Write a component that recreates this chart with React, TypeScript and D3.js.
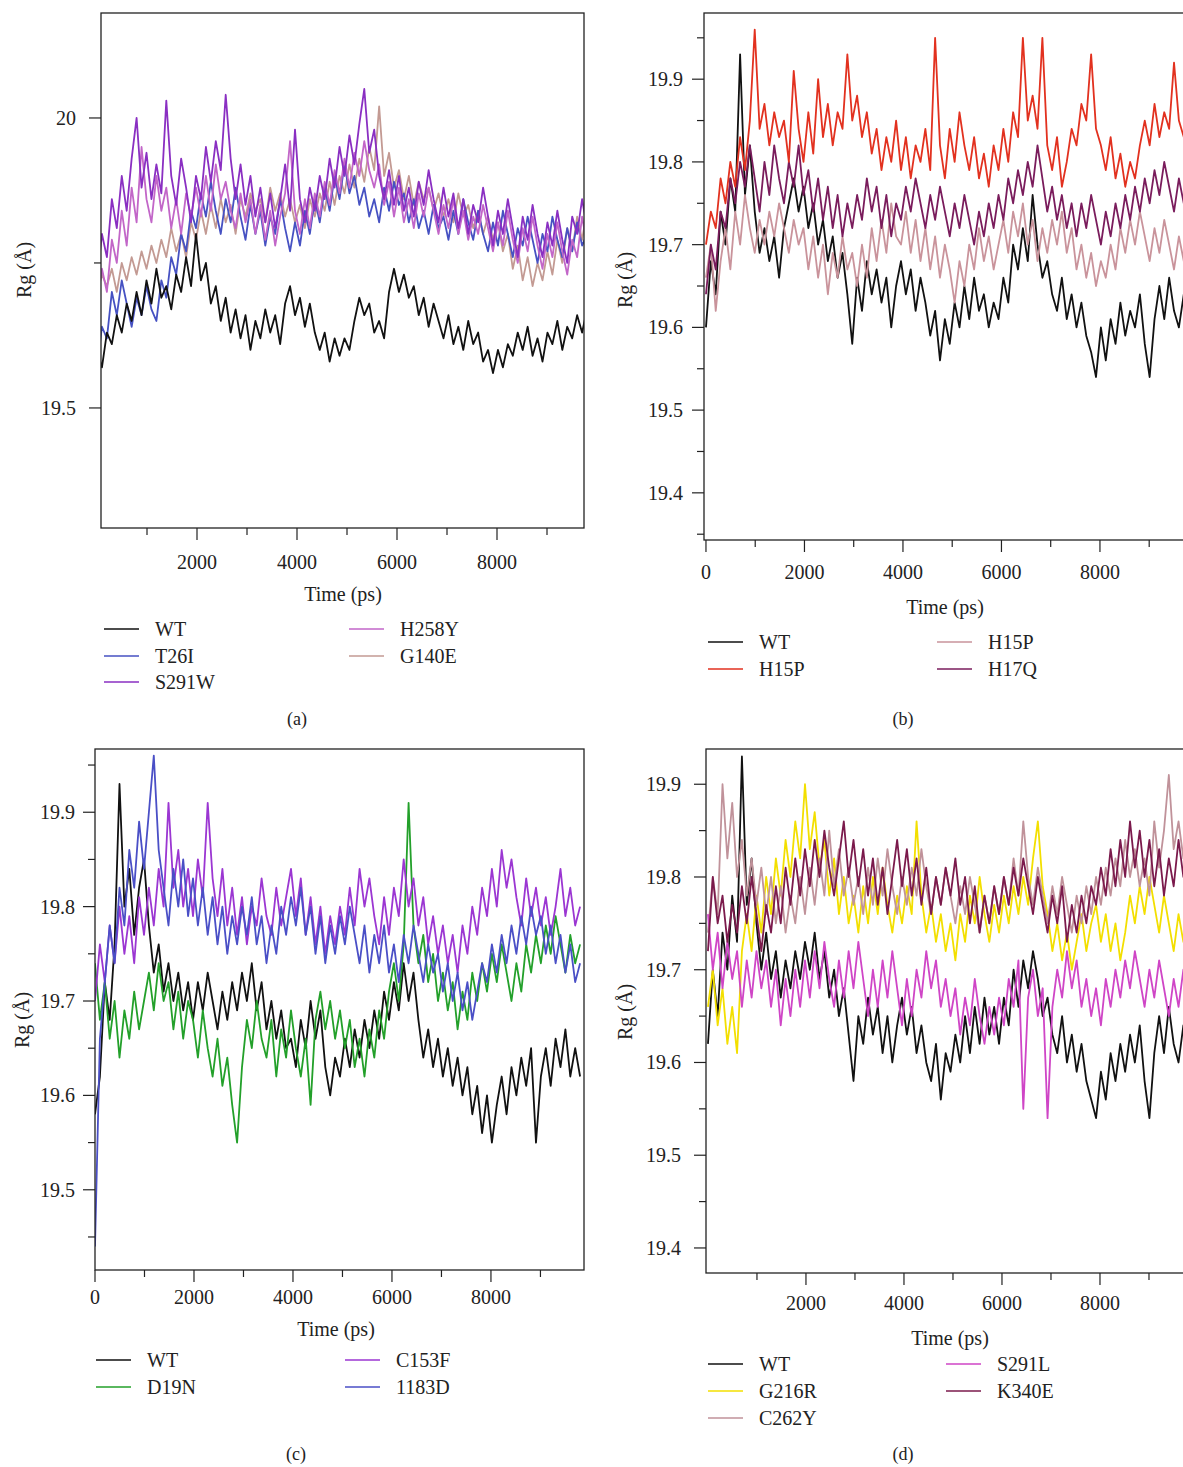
import React from 'react'
import * as d3 from 'd3'

// frames are saved every 99 ps, index -> time
const STEP = 99

// ---- (a) ----
const aWT = [19.60, 19.57, 19.63, 19.61, 19.66, 19.63, 19.68, 19.65, 19.70, 19.66,
  19.72, 19.68, 19.74, 19.69, 19.71, 19.67, 19.73, 19.70, 19.76, 19.71,
  19.80, 19.72, 19.75, 19.68, 19.71, 19.65, 19.69, 19.63, 19.67, 19.62,
  19.66, 19.60, 19.65, 19.62, 19.67, 19.63, 19.66, 19.61, 19.68, 19.71,
  19.66, 19.69, 19.64, 19.68, 19.63, 19.60, 19.63, 19.58, 19.62, 19.59,
  19.62, 19.60, 19.65, 19.69, 19.66, 19.68, 19.63, 19.65, 19.62, 19.70,
  19.74, 19.70, 19.73, 19.69, 19.71, 19.66, 19.69, 19.64, 19.68, 19.65,
  19.62, 19.66, 19.61, 19.64, 19.60, 19.65, 19.61, 19.63, 19.58, 19.60,
  19.56, 19.60, 19.57, 19.61, 19.59, 19.63, 19.60, 19.64, 19.59, 19.62,
  19.58, 19.63, 19.61, 19.65, 19.60, 19.64, 19.62, 19.66, 19.63, 19.67]
const aT26I = [19.57, 19.64, 19.62, 19.70, 19.66, 19.72, 19.68, 19.64, 19.69, 19.66,
  19.71, 19.67, 19.65, 19.72, 19.69, 19.76, 19.73, 19.80, 19.77, 19.84,
  19.81, 19.87, 19.83, 19.89, 19.84, 19.80, 19.86, 19.82, 19.88, 19.83,
  19.79, 19.85, 19.80, 19.84, 19.78, 19.83, 19.80, 19.86, 19.81, 19.77,
  19.82, 19.78, 19.84, 19.80, 19.86, 19.82, 19.88, 19.84, 19.90, 19.86,
  19.92, 19.87, 19.90, 19.85, 19.88, 19.83, 19.86, 19.82, 19.88, 19.84,
  19.89, 19.85, 19.87, 19.82, 19.86, 19.81, 19.84, 19.80, 19.85, 19.81,
  19.83, 19.79, 19.84, 19.80, 19.86, 19.82, 19.79, 19.84, 19.80, 19.77,
  19.82, 19.78, 19.84, 19.80, 19.76, 19.81, 19.78, 19.83, 19.79, 19.75,
  19.80, 19.77, 19.83, 19.79, 19.76, 19.81, 19.77, 19.82, 19.78, 19.80]
const aS291W = [19.72, 19.80, 19.76, 19.86, 19.81, 19.90, 19.84, 19.93, 20.00, 19.88,
  19.94, 19.86, 19.92, 19.87, 20.03, 19.90, 19.85, 19.93, 19.88, 19.82,
  19.90, 19.86, 19.95, 19.89, 19.96, 19.91, 20.04, 19.93, 19.86, 19.92,
  19.85, 19.90, 19.83, 19.88, 19.82, 19.87, 19.81, 19.86, 19.92, 19.84,
  19.98, 19.86, 19.82, 19.88, 19.84, 19.90, 19.86, 19.93, 19.88, 19.95,
  19.90, 19.97, 19.92, 19.99, 20.05, 19.94, 19.98, 19.90, 19.86, 19.91,
  19.85, 19.90, 19.84, 19.88, 19.83, 19.89, 19.85, 19.91, 19.86, 19.82,
  19.88, 19.83, 19.87, 19.81, 19.86, 19.80, 19.85, 19.82, 19.88, 19.83,
  19.78, 19.84, 19.80, 19.86, 19.81, 19.76, 19.83, 19.79, 19.85, 19.80,
  19.76, 19.82, 19.78, 19.84, 19.79, 19.75, 19.83, 19.80, 19.86, 19.81]
const aH258Y = [19.68, 19.74, 19.70, 19.79, 19.75, 19.84, 19.78, 19.88, 19.82, 19.95,
  19.86, 19.82, 19.90, 19.84, 19.88, 19.81, 19.86, 19.80, 19.87, 19.83,
  19.88, 19.83, 19.90, 19.84, 19.92, 19.86, 19.89, 19.84, 19.81, 19.87,
  19.82, 19.86, 19.80, 19.85, 19.79, 19.84, 19.78, 19.83, 19.87, 19.96,
  19.84, 19.80, 19.86, 19.81, 19.87, 19.83, 19.89, 19.85, 19.91, 19.87,
  19.93, 19.88, 19.94, 19.90, 19.96, 19.91, 19.88, 19.92, 19.85, 19.89,
  19.83, 19.88, 19.82, 19.86, 19.81, 19.87, 19.83, 19.88, 19.84, 19.80,
  19.85, 19.81, 19.86, 19.80, 19.84, 19.79, 19.83, 19.80, 19.85, 19.81,
  19.77, 19.82, 19.78, 19.84, 19.79, 19.75, 19.81, 19.77, 19.83, 19.78,
  19.74, 19.80, 19.76, 19.82, 19.77, 19.73, 19.79, 19.76, 19.83, 19.78]
const aG140E = [19.70, 19.73, 19.71, 19.74, 19.70, 19.75, 19.72, 19.76, 19.73, 19.77,
  19.74, 19.78, 19.75, 19.79, 19.76, 19.81, 19.77, 19.80, 19.76, 19.82,
  19.79, 19.84, 19.80, 19.85, 19.81, 19.86, 19.82, 19.85, 19.80, 19.86,
  19.83, 19.87, 19.84, 19.86, 19.82, 19.88, 19.84, 19.87, 19.83, 19.86,
  19.82, 19.85, 19.81, 19.86, 19.83, 19.87, 19.84, 19.89, 19.85, 19.90,
  19.87, 19.92, 19.88, 19.93, 19.89, 19.95, 19.91, 20.02, 19.90, 19.94,
  19.88, 19.91, 19.86, 19.90, 19.85, 19.89, 19.86, 19.88, 19.84, 19.87,
  19.83, 19.86, 19.82, 19.87, 19.83, 19.85, 19.81, 19.84, 19.80, 19.83,
  19.79, 19.82, 19.77, 19.80, 19.74, 19.78, 19.72, 19.76, 19.71, 19.75,
  19.72, 19.77, 19.73, 19.79, 19.75, 19.81, 19.77, 19.83, 19.79, 19.84]

// ---- (b) ----
const bWT = [19.60, 19.68, 19.64, 19.74, 19.70, 19.78, 19.74, 19.93, 19.76, 19.82,
  19.74, 19.69, 19.72, 19.68, 19.71, 19.66, 19.72, 19.75, 19.78, 19.74,
  19.77, 19.72, 19.75, 19.70, 19.73, 19.68, 19.71, 19.66, 19.69, 19.64,
  19.58, 19.66, 19.62, 19.68, 19.64, 19.67, 19.63, 19.66, 19.60, 19.65,
  19.68, 19.64, 19.67, 19.62, 19.66, 19.63, 19.59, 19.62, 19.56, 19.61,
  19.58, 19.63, 19.60, 19.65, 19.61, 19.66, 19.62, 19.64, 19.60, 19.63,
  19.61, 19.66, 19.63, 19.70, 19.67, 19.72, 19.68, 19.76, 19.70, 19.66,
  19.68, 19.64, 19.62, 19.66, 19.61, 19.64, 19.60, 19.63, 19.59, 19.57,
  19.54, 19.60, 19.56, 19.61, 19.58, 19.63, 19.59, 19.62, 19.60, 19.64,
  19.58, 19.54, 19.61, 19.65, 19.61, 19.66, 19.62, 19.60, 19.64, 19.62]
const bH15P = [19.70, 19.74, 19.72, 19.78, 19.75, 19.80, 19.77, 19.83, 19.79, 19.85,
  19.96, 19.84, 19.87, 19.82, 19.86, 19.83, 19.85, 19.80, 19.91, 19.84,
  19.80, 19.86, 19.81, 19.90, 19.83, 19.87, 19.82, 19.86, 19.84, 19.93,
  19.85, 19.88, 19.83, 19.86, 19.81, 19.84, 19.79, 19.83, 19.80, 19.85,
  19.79, 19.83, 19.78, 19.82, 19.80, 19.84, 19.79, 19.95, 19.82, 19.78,
  19.84, 19.80, 19.86, 19.82, 19.79, 19.83, 19.78, 19.81, 19.77, 19.82,
  19.79, 19.84, 19.80, 19.86, 19.83, 19.95, 19.85, 19.88, 19.84, 19.95,
  19.82, 19.79, 19.83, 19.77, 19.80, 19.84, 19.82, 19.87, 19.85, 19.93,
  19.84, 19.82, 19.79, 19.83, 19.78, 19.81, 19.77, 19.80, 19.78, 19.82,
  19.85, 19.82, 19.87, 19.83, 19.86, 19.84, 19.92, 19.85, 19.83, 19.86]
const bH15Pb = [19.66, 19.70, 19.62, 19.68, 19.72, 19.67, 19.74, 19.70, 19.76, 19.72,
  19.69, 19.73, 19.70, 19.74, 19.71, 19.75, 19.72, 19.69, 19.73, 19.70,
  19.72, 19.67, 19.71, 19.66, 19.70, 19.64, 19.69, 19.66, 19.71, 19.67,
  19.69, 19.65, 19.70, 19.66, 19.72, 19.68, 19.73, 19.69, 19.75, 19.71,
  19.70, 19.74, 19.69, 19.73, 19.68, 19.72, 19.67, 19.71, 19.66, 19.70,
  19.67, 19.63, 19.68, 19.65, 19.70, 19.67, 19.72, 19.68, 19.71, 19.67,
  19.70, 19.73, 19.69, 19.74, 19.71, 19.75, 19.70, 19.73, 19.68, 19.72,
  19.69, 19.73, 19.70, 19.74, 19.69, 19.72, 19.67, 19.70, 19.66, 19.69,
  19.65, 19.68, 19.66, 19.70, 19.67, 19.72, 19.69, 19.73, 19.70, 19.74,
  19.71, 19.68, 19.72, 19.69, 19.73, 19.70, 19.67, 19.71, 19.68, 19.72]
const bH17Q = [19.64, 19.70, 19.67, 19.74, 19.72, 19.78, 19.75, 19.80, 19.77, 19.82,
  19.78, 19.74, 19.80, 19.76, 19.82, 19.78, 19.75, 19.80, 19.77, 19.82,
  19.76, 19.79, 19.74, 19.78, 19.73, 19.77, 19.72, 19.76, 19.71, 19.75,
  19.72, 19.76, 19.73, 19.78, 19.74, 19.77, 19.72, 19.76, 19.71, 19.75,
  19.73, 19.77, 19.74, 19.78, 19.75, 19.72, 19.76, 19.73, 19.77, 19.74,
  19.71, 19.75, 19.72, 19.76, 19.73, 19.70, 19.74, 19.71, 19.75, 19.72,
  19.76, 19.73, 19.78, 19.75, 19.79, 19.76, 19.80, 19.77, 19.82, 19.78,
  19.74, 19.77, 19.73, 19.76, 19.72, 19.75, 19.71, 19.75, 19.72, 19.76,
  19.73, 19.70, 19.74, 19.71, 19.75, 19.72, 19.76, 19.73, 19.77, 19.74,
  19.78, 19.75, 19.79, 19.76, 19.80, 19.77, 19.74, 19.78, 19.75, 19.77]

// ---- (c) ----
const cWT = [19.58, 19.62, 19.72, 19.68, 19.76, 19.93, 19.80, 19.84, 19.77, 19.82,
  19.85, 19.78, 19.73, 19.76, 19.71, 19.74, 19.70, 19.73, 19.69, 19.72,
  19.68, 19.72, 19.69, 19.73, 19.70, 19.67, 19.71, 19.68, 19.72, 19.69,
  19.73, 19.70, 19.74, 19.69, 19.72, 19.67, 19.70, 19.66, 19.69, 19.65,
  19.66, 19.63, 19.68, 19.65, 19.70, 19.66, 19.69, 19.63, 19.60, 19.64,
  19.62, 19.66, 19.63, 19.67, 19.64, 19.68, 19.65, 19.69, 19.66, 19.71,
  19.68, 19.72, 19.69, 19.74, 19.70, 19.73, 19.68, 19.64, 19.67, 19.63,
  19.66, 19.62, 19.65, 19.61, 19.64, 19.60, 19.63, 19.58, 19.61, 19.56,
  19.60, 19.55, 19.59, 19.62, 19.58, 19.63, 19.60, 19.64, 19.61, 19.65,
  19.55, 19.62, 19.65, 19.61, 19.66, 19.63, 19.67, 19.62, 19.65, 19.62]
const cD19N = [19.74, 19.68, 19.72, 19.66, 19.70, 19.64, 19.69, 19.66, 19.71, 19.67,
  19.70, 19.73, 19.69, 19.74, 19.70, 19.72, 19.67, 19.71, 19.66, 19.70,
  19.68, 19.64, 19.69, 19.65, 19.62, 19.66, 19.61, 19.64, 19.59, 19.55,
  19.63, 19.68, 19.65, 19.70, 19.66, 19.64, 19.68, 19.62, 19.67, 19.64,
  19.69, 19.65, 19.62, 19.66, 19.59, 19.68, 19.71, 19.67, 19.70, 19.66,
  19.69, 19.65, 19.68, 19.63, 19.66, 19.62, 19.67, 19.64, 19.69, 19.66,
  19.71, 19.74, 19.70, 19.76, 19.91, 19.78, 19.74, 19.77, 19.72, 19.75,
  19.70, 19.73, 19.69, 19.72, 19.67, 19.71, 19.68, 19.73, 19.70, 19.74,
  19.71, 19.75, 19.72, 19.76, 19.73, 19.70, 19.74, 19.71, 19.76, 19.73,
  19.77, 19.74, 19.78, 19.75, 19.79, 19.76, 19.73, 19.77, 19.74, 19.76]
const cC153F = [19.70, 19.76, 19.72, 19.78, 19.74, 19.80, 19.75, 19.79, 19.74, 19.81,
  19.77, 19.82, 19.78, 19.84, 19.80, 19.91, 19.82, 19.86, 19.80, 19.84,
  19.79, 19.85, 19.81, 19.91, 19.83, 19.79, 19.84, 19.78, 19.82, 19.77,
  19.81, 19.76, 19.80, 19.78, 19.83, 19.79, 19.77, 19.82, 19.78, 19.81,
  19.84, 19.79, 19.83, 19.77, 19.81, 19.76, 19.80, 19.75, 19.79, 19.76,
  19.80, 19.77, 19.82, 19.78, 19.84, 19.80, 19.83, 19.79, 19.76, 19.81,
  19.77, 19.82, 19.79, 19.85, 19.80, 19.83, 19.78, 19.81, 19.76, 19.79,
  19.75, 19.78, 19.74, 19.77, 19.73, 19.78, 19.75, 19.80, 19.77, 19.82,
  19.79, 19.84, 19.80, 19.86, 19.82, 19.85, 19.81, 19.78, 19.83, 19.79,
  19.82, 19.78, 19.81, 19.77, 19.80, 19.84, 19.79, 19.82, 19.78, 19.80]
const c1183D = [19.44, 19.66, 19.72, 19.78, 19.74, 19.82, 19.78, 19.86, 19.82, 19.89,
  19.84, 19.90, 19.96, 19.86, 19.82, 19.78, 19.84, 19.80, 19.85, 19.79,
  19.83, 19.78, 19.82, 19.77, 19.81, 19.76, 19.80, 19.75, 19.79, 19.76,
  19.80, 19.77, 19.81, 19.76, 19.79, 19.74, 19.78, 19.75, 19.80, 19.77,
  19.81, 19.78, 19.82, 19.77, 19.80, 19.75, 19.79, 19.74, 19.78, 19.75,
  19.79, 19.76, 19.80, 19.77, 19.74, 19.78, 19.73, 19.77, 19.74, 19.78,
  19.73, 19.76, 19.72, 19.77, 19.74, 19.78, 19.75, 19.72, 19.76, 19.73,
  19.75, 19.71, 19.74, 19.70, 19.73, 19.69, 19.72, 19.68, 19.71, 19.74,
  19.72, 19.76, 19.73, 19.77, 19.74, 19.78, 19.75, 19.79, 19.76, 19.80,
  19.77, 19.79, 19.75, 19.78, 19.74, 19.77, 19.73, 19.76, 19.72, 19.74]

// ---- (d) ----
const dWT = [19.62, 19.70, 19.65, 19.74, 19.70, 19.78, 19.73, 19.93, 19.77, 19.82,
  19.75, 19.70, 19.74, 19.69, 19.72, 19.67, 19.71, 19.68, 19.72, 19.69,
  19.73, 19.70, 19.74, 19.69, 19.72, 19.67, 19.70, 19.65, 19.68, 19.63,
  19.58, 19.65, 19.62, 19.67, 19.63, 19.66, 19.61, 19.65, 19.60, 19.64,
  19.67, 19.63, 19.66, 19.61, 19.64, 19.60, 19.58, 19.62, 19.56, 19.61,
  19.59, 19.63, 19.60, 19.65, 19.61, 19.66, 19.62, 19.67, 19.63, 19.66,
  19.62, 19.67, 19.64, 19.70, 19.66, 19.71, 19.68, 19.72, 19.69, 19.65,
  19.67, 19.63, 19.61, 19.65, 19.60, 19.63, 19.59, 19.62, 19.58, 19.56,
  19.54, 19.59, 19.56, 19.61, 19.58, 19.62, 19.59, 19.63, 19.60, 19.64,
  19.58, 19.54, 19.61, 19.65, 19.61, 19.66, 19.62, 19.60, 19.64, 19.62]
const dG216R = [19.66, 19.70, 19.64, 19.68, 19.62, 19.66, 19.61, 19.72, 19.76, 19.72,
  19.78, 19.74, 19.80, 19.76, 19.82, 19.78, 19.84, 19.80, 19.86, 19.82,
  19.90, 19.83, 19.87, 19.81, 19.84, 19.78, 19.82, 19.76, 19.80, 19.75,
  19.78, 19.74, 19.79, 19.75, 19.80, 19.76, 19.81, 19.77, 19.74, 19.78,
  19.75, 19.79, 19.76, 19.86, 19.78, 19.74, 19.77, 19.73, 19.76, 19.72,
  19.75, 19.71, 19.76, 19.73, 19.78, 19.75, 19.80, 19.76, 19.73, 19.77,
  19.74, 19.78, 19.75, 19.79, 19.76, 19.80, 19.77, 19.82, 19.86, 19.79,
  19.76, 19.72, 19.75, 19.71, 19.74, 19.70, 19.73, 19.76, 19.72, 19.75,
  19.77, 19.73, 19.76, 19.72, 19.75, 19.71, 19.74, 19.78, 19.75, 19.79,
  19.76, 19.80, 19.77, 19.74, 19.78, 19.75, 19.72, 19.76, 19.73, 19.75]
const dC262Y = [19.74, 19.80, 19.76, 19.90, 19.82, 19.88, 19.80, 19.84, 19.78, 19.82,
  19.77, 19.81, 19.76, 19.80, 19.75, 19.79, 19.74, 19.78, 19.75, 19.80,
  19.76, 19.81, 19.77, 19.82, 19.78, 19.85, 19.79, 19.83, 19.78, 19.81,
  19.77, 19.80, 19.76, 19.81, 19.77, 19.82, 19.78, 19.83, 19.79, 19.76,
  19.80, 19.77, 19.81, 19.78, 19.83, 19.79, 19.76, 19.80, 19.77, 19.81,
  19.78, 19.75, 19.79, 19.76, 19.80, 19.77, 19.74, 19.78, 19.75, 19.79,
  19.76, 19.80, 19.77, 19.82, 19.78, 19.86, 19.80, 19.77, 19.81, 19.78,
  19.75, 19.79, 19.76, 19.80, 19.77, 19.74, 19.78, 19.75, 19.79, 19.76,
  19.80, 19.77, 19.81, 19.78, 19.82, 19.79, 19.84, 19.80, 19.83, 19.79,
  19.82, 19.78, 19.86, 19.81, 19.85, 19.91, 19.83, 19.86, 19.82, 19.84]
const dS291L = [19.76, 19.70, 19.74, 19.68, 19.73, 19.69, 19.72, 19.66, 19.71, 19.67,
  19.72, 19.68, 19.71, 19.66, 19.70, 19.64, 19.69, 19.65, 19.70, 19.66,
  19.71, 19.67, 19.72, 19.68, 19.73, 19.69, 19.66, 19.71, 19.67, 19.72,
  19.68, 19.73, 19.69, 19.65, 19.70, 19.66, 19.71, 19.67, 19.72, 19.68,
  19.64, 19.69, 19.65, 19.70, 19.67, 19.72, 19.68, 19.71, 19.66, 19.69,
  19.65, 19.68, 19.63, 19.67, 19.64, 19.69, 19.65, 19.62, 19.66, 19.63,
  19.67, 19.64, 19.69, 19.66, 19.71, 19.55, 19.67, 19.70, 19.65, 19.68,
  19.54, 19.66, 19.70, 19.67, 19.72, 19.68, 19.71, 19.66, 19.69, 19.65,
  19.68, 19.64, 19.69, 19.66, 19.70, 19.67, 19.71, 19.68, 19.72, 19.69,
  19.66, 19.70, 19.67, 19.71, 19.68, 19.65, 19.69, 19.66, 19.70, 19.67]
const dK340E = [19.72, 19.80, 19.75, 19.78, 19.73, 19.77, 19.74, 19.79, 19.75, 19.80,
  19.76, 19.72, 19.77, 19.74, 19.79, 19.75, 19.81, 19.77, 19.82, 19.78,
  19.83, 19.79, 19.84, 19.80, 19.85, 19.81, 19.78, 19.82, 19.86, 19.80,
  19.84, 19.79, 19.83, 19.78, 19.82, 19.77, 19.81, 19.76, 19.80, 19.84,
  19.79, 19.83, 19.78, 19.82, 19.77, 19.81, 19.76, 19.80, 19.77, 19.81,
  19.78, 19.82, 19.77, 19.80, 19.75, 19.79, 19.74, 19.78, 19.75, 19.79,
  19.76, 19.80, 19.77, 19.81, 19.78, 19.82, 19.79, 19.76, 19.80, 19.77,
  19.74, 19.78, 19.75, 19.79, 19.73, 19.77, 19.74, 19.78, 19.75, 19.79,
  19.77, 19.81, 19.78, 19.83, 19.79, 19.84, 19.80, 19.86, 19.81, 19.85,
  19.80, 19.84, 19.79, 19.83, 19.78, 19.82, 19.79, 19.84, 19.80, 19.82]

// tick values
const xLabelsNo0 = [2000, 4000, 6000, 8000]
const xLabels0 = [0, 2000, 4000, 6000, 8000]
const xMinor = [1000, 3000, 5000, 7000, 9000]

const FONT = "'Liberation Serif', 'DejaVu Serif', serif"

type Series = { name: string; color: string; values: number[] }

const sWT = (values: number[]): Series => ({ name: 'WT', color: '#111111', values })

const panels = [
  {
    id: 'a', caption: '(a)', capX: 297, capY: 720,
    box: { x0: 101, x1: 584, y0: 13, y1: 528 },
    xDomain: [80, 9740], yDomain: [19.293, 20.181],
    yMajor: [19.5, 20], yMinor: [19.75], xMajor: xLabelsNo0, xMinor,
    labelGap: 25, xLabelDy: 34, xTitle: [343, 594], yTitle: [24, 270],
    order: [
      { name: 'G140E', color: '#c39a93', values: aG140E },
      { name: 'T26I', color: '#4651c2', values: aT26I },
      { name: 'H258Y', color: '#c266c8', values: aH258Y },
      { name: 'S291W', color: '#8a2fc2', values: aS291W },
      sWT(aWT),
    ],
    legend: { x: [104, 349], rows: [629, 656, 682], cols: [['WT', 'T26I', 'S291W'], ['H258Y', 'G140E']] },
  },
  {
    id: 'b', caption: '(b)', capX: 903, capY: 720,
    box: { x0: 704, x1: 1195, y0: 13, y1: 540 },
    xDomain: [-40, 9930], yDomain: [19.343, 19.98],
    yMajor: [19.4, 19.5, 19.6, 19.7, 19.8, 19.9], yMinor: [19.35, 19.45, 19.55, 19.65, 19.75, 19.85, 19.95],
    xMajor: xLabels0, xMinor,
    labelGap: 21, xLabelDy: 32, xTitle: [945, 607], yTitle: [625, 280],
    order: [
      sWT(bWT),
      { name: 'H15P ', color: '#c9939b', values: bH15Pb },
      { name: 'H17Q', color: '#7a1c5c', values: bH17Q },
      { name: 'H15P', color: '#e2311f', values: bH15P },
    ],
    legend: { x: [708, 937], rows: [642, 669], cols: [['WT', 'H15P'], ['H15P ', 'H17Q']] },
  },
  {
    id: 'c', caption: '(c)', capX: 296, capY: 1455,
    box: { x0: 95, x1: 584, y0: 749, y1: 1270 },
    xDomain: [0, 9880], yDomain: [19.415, 19.967],
    yMajor: [19.5, 19.6, 19.7, 19.8, 19.9], yMinor: [19.45, 19.55, 19.65, 19.75, 19.85, 19.95],
    xMajor: xLabels0, xMinor,
    labelGap: 20, xLabelDy: 27, xTitle: [336, 1329], yTitle: [22, 1020],
    order: [
      sWT(cWT),
      { name: 'D19N', color: '#23a02a', values: cD19N },
      { name: 'C153F', color: '#9b36d2', values: cC153F },
      { name: '1183D', color: '#4a4fc6', values: c1183D },
    ],
    legend: { x: [96, 345], rows: [1360, 1387], cols: [['WT', 'D19N'], ['C153F', '1183D']] },
  },
  {
    id: 'd', caption: '(d)', capX: 903, capY: 1455,
    box: { x0: 706, x1: 1195, y0: 749, y1: 1273 },
    xDomain: [-40, 9939], yDomain: [19.373, 19.938],
    yMajor: [19.4, 19.5, 19.6, 19.7, 19.8, 19.9], yMinor: [19.45, 19.55, 19.65, 19.75, 19.85],
    xMajor: xLabelsNo0, xMinor,
    labelGap: 25, xLabelDy: 30, xTitle: [950, 1338], yTitle: [625, 1012],
    order: [
      sWT(dWT),
      { name: 'G216R', color: '#f3df00', values: dG216R },
      { name: 'C262Y', color: '#c0929a', values: dC262Y },
      { name: 'S291L', color: '#cf45c6', values: dS291L },
      { name: 'K340E', color: '#7b1a4c', values: dK340E },
    ],
    legend: { x: [708, 946], rows: [1364, 1391, 1418], cols: [['WT', 'G216R', 'C262Y'], ['S291L', 'K340E']] },
  },
]

function Panel({ p }: { p: any }) {
  const { box } = p
  const x = d3.scaleLinear().domain(p.xDomain).range([box.x0, box.x1])
  const y = d3.scaleLinear().domain(p.yDomain).range([box.y1, box.y0])
  const line = d3.line<number>().x((_, i) => x(i * STEP)).y(v => y(v))
  const byName: Record<string, Series> = {}
  p.order.forEach((s: Series) => { byName[s.name] = s })

  return (
    <g>
      <defs>
        <clipPath id={`clip-${p.id}`}>
          <rect x={box.x0} y={box.y0} width={box.x1 - box.x0} height={box.y1 - box.y0} />
        </clipPath>
      </defs>
      <g clipPath={`url(#clip-${p.id})`}>
        {p.order.map((s: Series) => (
          <path key={s.name} d={line(s.values) || ''} fill="none" stroke={s.color} strokeWidth={1.8} strokeLinejoin="round" />
        ))}
      </g>
      <rect x={box.x0} y={box.y0} width={box.x1 - box.x0} height={box.y1 - box.y0} fill="none" stroke="#222" strokeWidth={1.3} />

      {/* y axis */}
      {p.yMajor.map((v: number) => (
        <g key={'ym' + v}>
          <line x1={box.x0 - 12} x2={box.x0} y1={y(v)} y2={y(v)} stroke="#222" strokeWidth={1.2} />
          <text x={box.x0 - p.labelGap} y={y(v)} dy="0.35em" textAnchor="end" fontSize={20} fill="#222">{String(v)}</text>
        </g>
      ))}
      {p.yMinor.map((v: number) => (
        <line key={'yn' + v} x1={box.x0 - 7} x2={box.x0} y1={y(v)} y2={y(v)} stroke="#222" strokeWidth={1.2} />
      ))}

      {/* x axis */}
      {p.xMajor.map((v: number) => (
        <g key={'xm' + v}>
          <line x1={x(v)} x2={x(v)} y1={box.y1} y2={box.y1 + 12} stroke="#222" strokeWidth={1.2} />
          <text x={x(v)} y={box.y1 + p.xLabelDy} dy="0.35em" textAnchor="middle" fontSize={20} fill="#222">{String(v)}</text>
        </g>
      ))}
      {p.xMinor.filter((v: number) => x(v) < 1183).map((v: number) => (
        <line key={'xn' + v} x1={x(v)} x2={x(v)} y1={box.y1} y2={box.y1 + 7} stroke="#222" strokeWidth={1.2} />
      ))}

      <text x={p.xTitle[0]} y={p.xTitle[1]} dy="0.35em" textAnchor="middle" fontSize={20} fill="#222">Time (ps)</text>
      <text transform={`translate(${p.yTitle[0]},${p.yTitle[1]}) rotate(-90)`} dy="0.35em" textAnchor="middle" fontSize={20} fill="#222">Rg (Å)</text>

      {/* legend */}
      {p.legend.cols.map((col: string[], ci: number) =>
        col.map((name, ri) => {
          const s = byName[name]
          const lx = p.legend.x[ci]
          const ly = p.legend.rows[ri]
          return (
            <g key={name + ci}>
              <line x1={lx} x2={lx + 35} y1={ly} y2={ly} stroke={s.color} strokeWidth={1.5} />
              <text x={lx + 51} y={ly} dy="0.35em" fontSize={20} fill="#222">{name.trim()}</text>
            </g>
          )
        })
      )}

      <text x={p.capX} y={p.capY} dy="0.3em" textAnchor="middle" fontSize={18} fill="#222">{p.caption}</text>
    </g>
  )
}

export default function App() {
  return (
    <svg width={1183} height={1467} style={{ position: 'absolute', left: 0, top: 0, background: '#fff' }} fontFamily={FONT}>
      <rect width={1183} height={1467} fill="#fff" />
      {panels.map(p => <Panel key={p.id} p={p} />)}
    </svg>
  )
}
